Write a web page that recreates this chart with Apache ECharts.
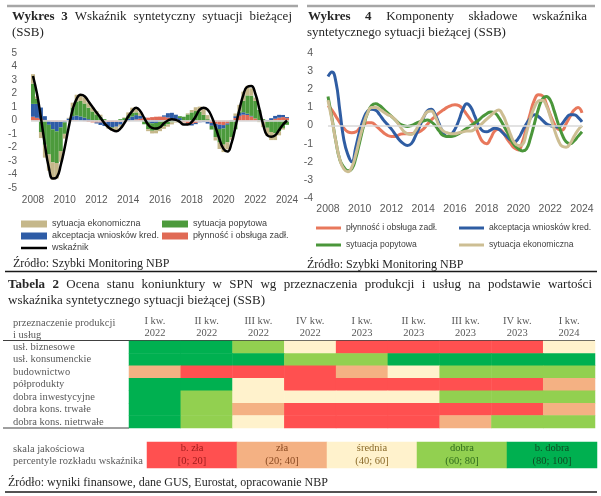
<!DOCTYPE html>
<html><head><meta charset="utf-8">
<script src="https://cdn.jsdelivr.net/npm/echarts@6/dist/echarts.min.js"></script>
<style>html,body{margin:0;padding:0;background:#fff}#c{width:601px;height:496px}</style>
</head><body><div id="c"></div>
<script>
// ---------- DATA ----------
const startYear = 2008;
const quarters = []; for (let i = 0; i < 65; i++) quarters.push(startYear + i / 4); // 2008Q1 .. 2024Q1
const quarterLabels = quarters.map(q => Math.floor(q) + ' Q' + (Math.round((q - Math.floor(q)) * 4) + 1));

// Wykres 3 – contributions (stacked bars) and synthetic indicator
const cRed = [0.28,0.2,0.12,0.04, -0.04,-0.09,-0.1,-0.09, -0.04,0.01,0.04,0.04, 0.0,-0.05,-0.1,-0.14,
  -0.15,-0.15,-0.13,-0.11, -0.11,-0.11,-0.1,-0.09, -0.05,0.01,0.08,0.13, 0.18,0.21,0.25,0.28,
  0.29,0.28,0.22,0.15, 0.08,0.0,-0.13,-0.22, -0.25,-0.18,-0.08,-0.05, -0.09,-0.18,-0.25,-0.31,
  -0.34,-0.22,-0.03,0.18, 0.35,0.43,0.41,0.3, 0.15,0.03,-0.05,-0.06, 0.03,0.13,0.21,0.25, 0.18];
const cBlue = [0.95,1.03,0.84,0.28, -0.28,-0.56,-0.7,-0.42, -0.1,0.14,0.28,0.32, 0.3,0.21,0.1,0.02,
  -0.07,-0.18,-0.28,-0.35, -0.39,-0.35,-0.21,-0.04, 0.14,0.28,0.32,0.21, 0.04,-0.14,-0.21,-0.18,
  -0.07,0.1,0.32,0.42, 0.35,0.18,0.0,-0.1, -0.12,-0.09,-0.05,-0.07, -0.14,-0.21,-0.28,-0.32,
  -0.25,-0.1,0.04,0.14, 0.21,0.18,0.1,0.04, 0.0,-0.02,-0.04,0.04, 0.14,0.21,0.21,0.16, 0.07];
const cGreen = [1.5,0.4,-0.85,-1.8, -2.2,-2.45,-2.35,-1.75, -0.85,0.0,0.65,1.05, 1.15,1.05,0.85,0.65,
  0.45,0.28,0.1,0.0, -0.05,0.0,0.1,0.18, 0.24,0.28,0.2,0.0, -0.28,-0.5,-0.55,-0.55,
  -0.5,-0.42,-0.28,-0.14, 0.0,0.14,0.28,0.45, 0.6,0.7,0.65,0.42, 0.1,-0.28,-0.7,-1.0,
  -1.2,-1.3,-1.2,-0.65, 0.1,0.85,1.35,1.5, 1.3,0.75,0.1,-0.48, -0.85,-0.95,-0.8,-0.55, -0.32];
const cTan = [0.7,0.15,-0.45,-0.95, -1.2,-1.28,-1.15,-0.8, -0.35,0.05,0.35,0.5, 0.5,0.45,0.38,0.3,
  0.25,0.15,0.0,-0.15, -0.22,-0.25,-0.15,0.05, 0.22,0.38,0.4,0.25, 0.0,-0.15,-0.2,-0.22,
  -0.22,-0.2,-0.18,-0.15, -0.15,-0.1,-0.03,0.08, 0.18,0.28,0.38,0.42, 0.3,0.05,-0.25,-0.48,
  -0.55,-0.52,-0.2,0.2, 0.5,0.68,0.7,0.55, 0.25,-0.1,-0.4,-0.58, -0.6,-0.5,-0.3,-0.12, 0.0];
const wskaznik = [3.3,2.0,0.2,-1.8, -3.5,-4.3,-4.2,-3.3, -2.0,-0.5,0.8,1.6, 1.9,1.8,1.4,1.0,
  0.6,0.2,-0.2,-0.5, -0.7,-0.8,-0.6,-0.2, 0.3,0.7,0.95,0.7, 0.2,-0.3,-0.55,-0.6,
  -0.5,-0.2,0.0,0.1, 0.05,-0.1,-0.3,-0.3, -0.1,0.3,0.8,0.95, 0.8,0.3,-0.5,-1.4,
  -2.1,-2.3,-1.7,-0.5, 0.8,1.9,2.5,2.55, 2.0,0.9,-0.3,-1.1, -1.2,-1.1,-0.7,-0.3, 0.0];

// Wykres 4 – components
const pRed = [1.1,0.85,0.5,0.15, -0.15,-0.35,-0.4,-0.35, -0.15,0.05,0.15,0.15, 0.0,-0.2,-0.4,-0.55,
  -0.6,-0.6,-0.5,-0.45, -0.45,-0.45,-0.4,-0.35, -0.2,0.05,0.3,0.5, 0.7,0.85,1.0,1.1,
  1.15,1.1,0.9,0.6, 0.3,0.0,-0.5,-0.9, -1.0,-0.7,-0.3,-0.2, -0.35,-0.7,-1.0,-1.25,
  -1.35,-0.9,-0.1,0.7, 1.4,1.7,1.65,1.2, 0.6,0.1,-0.2,-0.25, 0.1,0.5,0.85,1.0, 0.7];
const pBlue = [2.7,2.95,2.4,0.8, -0.8,-1.6,-2.0,-1.2, -0.3,0.4,0.8,0.9, 0.85,0.6,0.3,0.05,
  -0.2,-0.5,-0.8,-1.0, -1.1,-1.0,-0.6,-0.1, 0.4,0.8,0.9,0.6, 0.1,-0.4,-0.6,-0.5,
  -0.2,0.3,0.9,1.2, 1.0,0.5,0.0,-0.3, -0.35,-0.25,-0.15,-0.2, -0.4,-0.6,-0.8,-0.9,
  -0.7,-0.3,0.1,0.4, 0.6,0.5,0.3,0.1, 0.0,-0.05,-0.1,0.1, 0.4,0.6,0.6,0.45, 0.2];
const pGreen = [1.6,0.4,-0.9,-1.9, -2.3,-2.5,-2.4,-1.8, -0.9,0.0,0.7,1.1, 1.2,1.1,0.9,0.7,
  0.5,0.3,0.1,0.0, -0.05,0.0,0.1,0.2, 0.25,0.3,0.2,0.0, -0.3,-0.55,-0.6,-0.6,
  -0.55,-0.45,-0.3,-0.15, 0.0,0.15,0.3,0.5, 0.65,0.75,0.7,0.45, 0.1,-0.3,-0.75,-1.1,
  -1.3,-1.4,-1.3,-0.7, 0.1,0.9,1.45,1.6, 1.4,0.8,0.1,-0.5, -0.9,-1.0,-0.85,-0.6, -0.35];
const pTan = [1.4,0.3,-0.9,-1.9, -2.4,-2.55,-2.3,-1.6, -0.7,0.1,0.7,1.0, 1.0,0.9,0.75,0.6,
  0.5,0.3,0.0,-0.3, -0.45,-0.5,-0.3,0.1, 0.45,0.75,0.8,0.5, 0.0,-0.3,-0.4,-0.45,
  -0.45,-0.4,-0.35,-0.3, -0.3,-0.2,-0.05,0.15, 0.35,0.55,0.75,0.85, 0.6,0.1,-0.5,-0.95,
  -1.1,-1.05,-0.4,0.4, 1.0,1.35,1.4,1.1, 0.5,-0.2,-0.8,-1.15, -1.2,-1.0,-0.6,-0.25, 0.0];

// Tabela 2
const colLabels = ['I kw.\n2022','II kw.\n2022','III kw.\n2022','IV kw.\n2022','I kw.\n2023','II kw.\n2023','III kw.\n2023','IV kw.\n2023','I kw.\n2024'];
const rowLabels = ['usł. biznesowe','usł. konsumenckie','budownictwo','półprodukty','dobra inwestycyjne','dobra kons. trwałe','dobra kons. nietrwałe'];
// 1 = b. zła, 2 = zła, 3 = średnia, 4 = dobra, 5 = b. dobra
const rowBiz   = [5,5,4,3,1,1,1,1,3];
const rowKons  = [5,5,5,4,4,5,5,5,5];
const rowBud   = [2,1,1,1,2,3,4,4,4];
const rowPolp  = [5,5,3,1,1,1,1,1,2];
const rowInw   = [5,4,3,3,3,3,4,4,4];
const rowTrw   = [5,4,2,1,1,1,1,1,2];
const rowNtrw  = [5,4,3,1,1,1,2,4,4];
const scaleNames = ['b. zła','zła','średnia','dobra','b. dobra'];
const scaleRanges = ['[0; 20]','(20; 40]','(40; 60]','(60; 80]','(80; 100]'];
const scaleCodes = [1,2,3,4,5];

// ---------- STYLE ----------
const SERIF = '"Liberation Serif", "DejaVu Serif", serif';
const SANS = '"Liberation Sans", Arial, sans-serif';
const COL = {red:'#E06A55', blue:'#2E5CA6', green:'#4C9A3C', tan:'#C5B78A'};
const LCOL = {red:'#E8785C', blue:'#2F5DA3', green:'#4A963A', tan:'#CDBE93'};
const levelColors = ['#FF5050','#F4B183','#FFF2CC','#92D050','#00B050'];
const levelText = ['#9C1A1A','#8A4A22','#8A6A2A','#2F6B1C','#0E4A22'];

const tableRows = [rowBiz,rowKons,rowBud,rowPolp,rowInw,rowTrw,rowNtrw];
const pairs = arr => arr.map((v,i)=>[quarters[i], v]);

const ctx = document.createElement('canvas').getContext('2d');
function justified(parts, x0, x1, y, size, fill){
  const fonts = parts.map(p => (p.b?'bold ':'') + size + 'px ' + SERIF);
  const w = parts.map((p,i)=>{ctx.font = fonts[i]; return ctx.measureText(p.t).width;});
  const gap = (x1 - x0 - w.reduce((a,b)=>a+b,0)) / (parts.length - 1);
  let x = x0; const out = [];
  parts.forEach((p,i)=>{ out.push({type:'text', x:x, y:y, silent:true, style:{text:p.t, font:fonts[i], fill:fill, verticalAlign:'middle', align:'left'}}); x += w[i] + gap; });
  return out;
}
function words(str, nBold){ return str.split(' ').map((t,i)=>({t:t, b:i<nBold})); }
function txt(t, x, y, size, opts){
  opts = opts || {};
  return {type:'text', x:x, y:y, silent:true, style:{text:t, font:(opts.bold?'bold ':'')+size+'px '+(opts.font||SERIF), fill:opts.fill||'#262626', verticalAlign:'middle', align:opts.align||'left'}};
}
function hline(x1,x2,y,color,w){ return {type:'line', silent:true, shape:{x1:x1,y1:y,x2:x2,y2:y}, style:{stroke:color, lineWidth:w}}; }

const graphics = [].concat(
  [hline(7,298,6,'#A6A6A6',2.5), hline(307,595,6,'#A6A6A6',2.5)],
  justified(words('Wykres 3 Wskaźnik syntetyczny sytuacji bieżącej',2), 12, 292, 17, 13, '#262626'),
  [txt('(SSB)', 12, 33, 13)],
  justified(words('Wykres 4 Komponenty składowe wskaźnika',2), 308, 587, 17, 13, '#262626'),
  [txt('syntetycznego sytuacji bieżącej (SSB)', 307, 33, 13)],
  [txt('Źródło: Szybki Monitoring NBP', 13, 264, 12), txt('Źródło: Szybki Monitoring NBP', 307, 265, 12)],
  [hline(5,597,271.5,'#1a1a1a',1.5)],
  justified(words('Tabela 2 Ocena stanu koniunktury w SPN wg przeznaczenia produkcji i usług na podstawie wartości',2), 8, 592, 285, 13, '#262626'),
  [txt('wskaźnika syntetycznego sytuacji bieżącej (SSB)', 8, 301, 13)],
  [txt('przeznaczenie produkcji', 13, 323, 10.5, {fill:'#595959'}), txt('i usług', 13, 335, 10.5, {fill:'#595959'})],
  [hline(3,595,340.5,'#404040',1), hline(3,129,428,'#404040',1)],
  [txt('Źródło: wyniki finansowe, dane GUS, Eurostat, opracowanie NBP', 8, 483, 12)],
  [hline(5,597,492,'#1a1a1a',1.5)]
);

const axisLbl1 = {fontFamily:SANS, fontSize:10, color:'#595959'};
const axisLbl2 = {fontFamily:SANS, fontSize:10.5, color:'#595959'};
const noLines = {axisLine:{show:false}, axisTick:{show:false}, splitLine:{show:false}};
const zeroLine = {silent:true, symbol:['none','none'], label:{show:false}, lineStyle:{color:'#D9D9D9', width:1.5, type:'solid'}, data:[{yAxis:0}]};

const tableData = [];
tableRows.forEach((row,r)=>row.forEach((v,c)=>tableData.push([c,r,v])));
const scaleData = scaleCodes.map((v,i)=>({value:[i,0,v], name:scaleNames[i]+'\n'+scaleRanges[i], label:{color:levelText[i]}}));

const barBase = {type:'bar', stack:'ssb', xAxisIndex:0, yAxisIndex:0, barCategoryGap:'0%'};
const lineBase = {type:'line', xAxisIndex:1, yAxisIndex:1, smooth:0.5, showSymbol:false, symbol:'none'};
const legText1 = {fontFamily:SANS, fontSize:9, lineHeight:12, color:'#404040'};
const legText2 = {fontFamily:SANS, fontSize:8.6, lineHeight:12, color:'#404040'};

const option = {
  animation:false,
  backgroundColor:'#fff',
  graphic:graphics,
  grid:[
    {left:31, top:53, width:258, height:135},
    {left:328, top:53, width:254, height:145},
    {left:129, top:341, width:466, height:87},
    {left:147, top:442, width:450, height:26}
  ],
  xAxis:[
    Object.assign({type:'category', gridIndex:0, data:quarterLabels, boundaryGap:true,
      axisLabel:Object.assign({margin:7, interval:(i)=>i%8===0, formatter:(v)=>v.slice(0,4)}, axisLbl1)}, noLines),
    Object.assign({type:'value', gridIndex:1, min:2008, max:2024, interval:2,
      axisLabel:Object.assign({margin:6, showMinLabel:true, showMaxLabel:true, formatter:(v)=>String(v)}, axisLbl2)}, noLines),
    Object.assign({type:'category', gridIndex:2, position:'top', data:colLabels, axisLabel:{margin:2, fontFamily:SERIF, fontSize:10.5, lineHeight:12, color:'#595959', interval:0}}, noLines),
    Object.assign({type:'category', gridIndex:3, data:scaleNames, axisLabel:{show:false}}, noLines)
  ],
  yAxis:[
    Object.assign({type:'value', gridIndex:0, min:-5, max:5, interval:1, axisLabel:Object.assign({margin:14}, axisLbl1)}, noLines),
    Object.assign({type:'value', gridIndex:1, min:-4, max:4, interval:1, axisLabel:Object.assign({margin:15}, axisLbl2)}, noLines),
    Object.assign({type:'category', gridIndex:2, inverse:true, data:rowLabels, axisLabel:{align:'left', margin:116, fontFamily:SERIF, fontSize:10.5, color:'#595959', interval:0}}, noLines),
    Object.assign({type:'category', gridIndex:3, data:['skala'], axisLabel:{align:'left', margin:134, fontFamily:SERIF, fontSize:10.5, lineHeight:12, color:'#595959', formatter:()=>'skala jakościowa\npercentyle rozkładu wskaźnika'}}, noLines)
  ],
  legend:[
    {left:21, top:218, padding:0, orient:'vertical', itemWidth:26, itemHeight:7, itemGap:0, icon:'rect', textStyle:legText1, data:['sytuacja ekonomiczna','akceptacja wniosków kred.']},
    {left:162, top:218, padding:0, orient:'vertical', itemWidth:26, itemHeight:7, itemGap:0, icon:'rect', textStyle:legText1, data:['sytuacja popytowa','płynność i obsługa zadł.']},
    {left:21, top:242, padding:0, orient:'vertical', itemWidth:26, itemHeight:2.5, icon:'rect', textStyle:legText1, data:['wskaźnik']},
    {left:316, top:222, padding:0, orient:'vertical', itemWidth:25, itemHeight:3, itemGap:5, icon:'rect', textStyle:legText2, data:['płynność i obsługa zadł. ','sytuacja popytowa ']},
    {left:459, top:222, padding:0, orient:'vertical', itemWidth:25, itemHeight:3, itemGap:5, icon:'rect', textStyle:legText2, data:['akceptacja wniosków kred. ','sytuacja ekonomiczna ']}
  ],
  visualMap:{type:'piecewise', show:false, dimension:2, seriesIndex:[9,10],
    pieces:scaleCodes.map((v,i)=>({value:v, color:levelColors[i]}))},
  series:[
    Object.assign({}, barBase, {name:'płynność i obsługa zadł.', itemStyle:{color:COL.red}, data:cRed, markLine:zeroLine}),
    Object.assign({}, barBase, {name:'akceptacja wniosków kred.', itemStyle:{color:COL.blue}, data:cBlue}),
    Object.assign({}, barBase, {name:'sytuacja popytowa', itemStyle:{color:COL.green}, data:cGreen}),
    Object.assign({}, barBase, {name:'sytuacja ekonomiczna', itemStyle:{color:COL.tan}, data:cTan}),
    {name:'wskaźnik', type:'line', xAxisIndex:0, yAxisIndex:0, smooth:0.5, showSymbol:false, symbol:'none', z:5,
      lineStyle:{color:'#000', width:2.5}, itemStyle:{color:'#000'}, data:wskaznik},
    Object.assign({}, lineBase, {name:'płynność i obsługa zadł. ', itemStyle:{color:LCOL.red}, lineStyle:{width:3, color:LCOL.red}, data:pairs(pRed), markLine:zeroLine}),
    Object.assign({}, lineBase, {name:'akceptacja wniosków kred. ', itemStyle:{color:LCOL.blue}, lineStyle:{width:3, color:LCOL.blue}, data:pairs(pBlue)}),
    Object.assign({}, lineBase, {name:'sytuacja popytowa ', itemStyle:{color:LCOL.green}, lineStyle:{width:3, color:LCOL.green}, data:pairs(pGreen)}),
    Object.assign({}, lineBase, {name:'sytuacja ekonomiczna ', itemStyle:{color:LCOL.tan}, lineStyle:{width:3, color:LCOL.tan}, data:pairs(pTan)}),
    {name:'tabela', type:'heatmap', xAxisIndex:2, yAxisIndex:2, data:tableData, itemStyle:{borderWidth:0}, emphasis:{disabled:true}},
    {name:'skala', type:'heatmap', xAxisIndex:3, yAxisIndex:3, data:scaleData, itemStyle:{borderWidth:0}, emphasis:{disabled:true},
      label:{show:true, formatter:'{b}', fontFamily:SERIF, fontSize:10.5, lineHeight:13}}
  ]
};
const chart = echarts.init(document.getElementById('c'), null, {renderer:'canvas'});
chart.setOption(option);
</script></body></html>
